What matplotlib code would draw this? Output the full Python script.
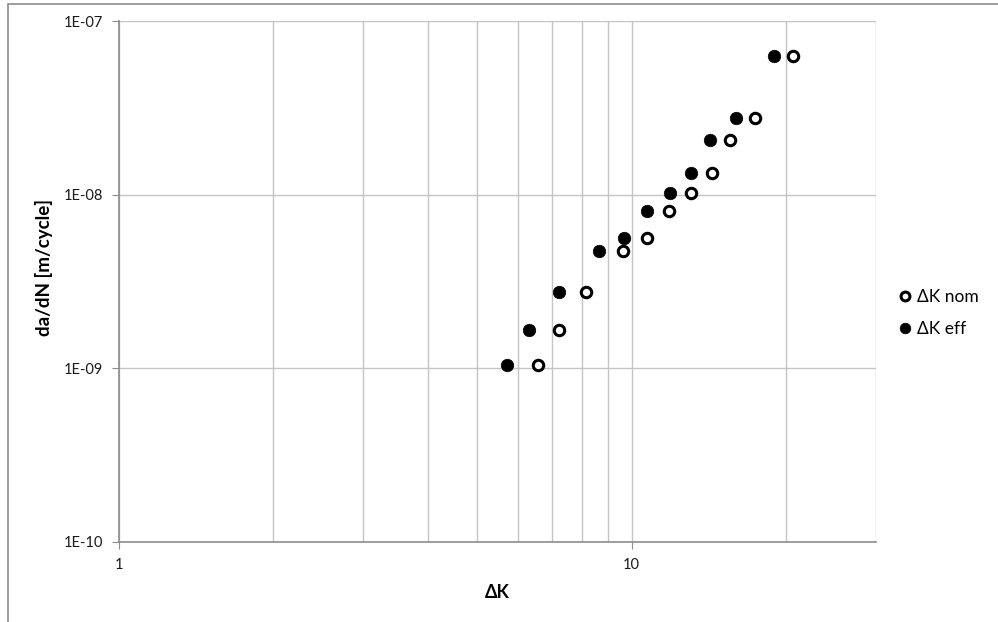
import numpy as np
import matplotlib.pyplot as plt
from matplotlib.patches import Rectangle
from matplotlib.ticker import FixedLocator, NullFormatter, FuncFormatter

plt.rcParams['font.family'] = ['Lato', 'DejaVu Sans']

# delta K values and crack growth rates
dk_nom = [6.58, 7.21, 8.16, 9.64, 10.73, 11.85, 13.05, 14.33, 15.55, 17.40, 20.6]
dk_eff = [5.71, 6.32, 7.22, 8.63, 9.66, 10.72, 11.87, 13.04, 14.22, 15.96, 18.95]
dadn = [1.04e-9, 1.66e-9, 2.76e-9, 4.72e-9, 5.60e-9, 8.01e-9,
        1.02e-8, 1.34e-8, 2.06e-8, 2.76e-8, 6.29e-8]

fig = plt.figure(figsize=(9.98, 6.22), dpi=100)
ax = fig.add_axes([0.119, 0.129, 0.759, 0.837])

ax.plot(dk_nom, dadn, 'o', ls='none', ms=7.5, mfc='white', mec='black', mew=2.2,
        label='ΔK nom', zorder=3)
ax.plot(dk_eff, dadn, 'o', ls='none', ms=9, mfc='black', mec='black', mew=0.5,
        label='ΔK eff', zorder=3)

ax.set_xscale('log')
ax.set_yscale('log')
ax.set_xlim(1, 30)
ax.set_ylim(1e-10, 1e-7)

ax.xaxis.set_major_locator(FixedLocator([1, 10]))
ax.xaxis.set_minor_locator(FixedLocator([2, 3, 4, 5, 6, 7, 8, 9, 20, 30]))
ax.xaxis.set_major_formatter(FuncFormatter(lambda v, p: '%d' % v))
ax.xaxis.set_minor_formatter(NullFormatter())
ax.yaxis.set_major_locator(FixedLocator([1e-10, 1e-9, 1e-8, 1e-7]))
ax.yaxis.set_minor_locator(FixedLocator([]))
ax.yaxis.set_major_formatter(FuncFormatter(lambda v, p: '1E%03d' % round(np.log10(v))))

gridc = '#c4c4c4'
ax.grid(True, which='major', axis='both', color=gridc, lw=1)
ax.grid(True, which='minor', axis='x', color=gridc, lw=1)
ax.set_axisbelow(True)

for s in ['top', 'right']:
    ax.spines[s].set_visible(False)
for s in ['left', 'bottom']:
    ax.spines[s].set_color('#8c8c8c')
    ax.spines[s].set_linewidth(1.2)

ax.tick_params(which='major', direction='out', length=5, color='#8c8c8c',
               labelsize=10.5, labelcolor='#1a1a1a', pad=6)
ax.tick_params(which='minor', length=0)
ax.tick_params(axis='x', pad=7)

ax.set_xlabel('ΔK', fontsize=13, fontweight='bold', labelpad=8)
ax.set_ylabel('da/dN [m/cycle]', fontsize=13.5, fontweight='bold')
ax.yaxis.set_label_coords(-0.087, 0.526)

ax.legend(loc='center left', bbox_to_anchor=(0.893, 0.497), bbox_transform=fig.transFigure,
          frameon=False, fontsize=12.5, handlelength=0.6, handletextpad=0.4,
          labelspacing=0.9, borderpad=0, markerscale=0.85)

# outer chart border
fig.patches.append(Rectangle((8 / 998, -0.5), 2, 1.5 - 4 / 622, transform=fig.transFigure,
                             fill=False, ec='#8c8c8c', lw=1.2))

fig.savefig('out.png', dpi=100)
